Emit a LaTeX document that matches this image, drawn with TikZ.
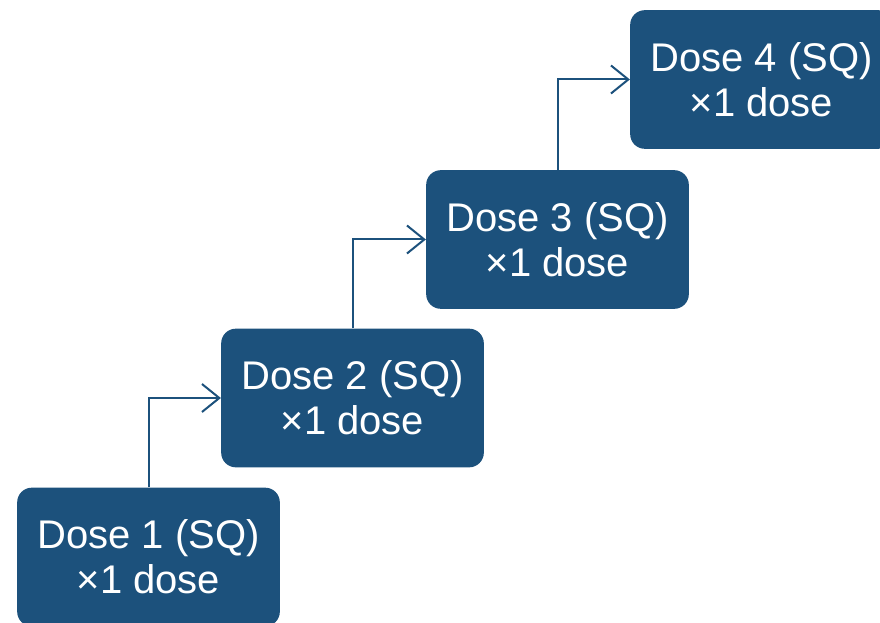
\documentclass[tikz,border=0pt]{standalone}
\usepackage{fontspec}
\setmainfont{Liberation Sans}
\usetikzlibrary{arrows.meta}
\definecolor{doseblue}{RGB}{28,81,124}
\begin{document}
\begin{tikzpicture}[x=0.75pt,y=-0.75pt,
  dosebox/.style={fill=doseblue,draw=none,rounded corners=11pt,
    minimum width=197pt,minimum height=104pt,inner sep=0pt,
    text=white,align=center,
    font=\fontsize{30pt}{33.75pt}\selectfont},
  steparrow/.style={draw=doseblue,line width=1.5pt,
    -{Straight Barb[length=13pt,width=21pt,line width=1.5pt]}}]
  \useasboundingbox (0,0) rectangle (880,623);
  \node[dosebox] (d1) at (148.5,557)   {Dose 1 (SQ)\\×1 dose};
  \node[dosebox] (d2) at (352.5,398)   {Dose 2 (SQ)\\×1 dose};
  \node[dosebox] (d3) at (557.5,239.5) {Dose 3 (SQ)\\×1 dose};
  \node[dosebox] (d4) at (761.5,79.5)  {Dose 4 (SQ)\\×1 dose};
  \draw[steparrow] (d1.north) |- (d2.west);
  \draw[steparrow] (d2.north) |- (d3.west);
  \draw[steparrow] (d3.north) |- (d4.west);
\end{tikzpicture}
\end{document}
